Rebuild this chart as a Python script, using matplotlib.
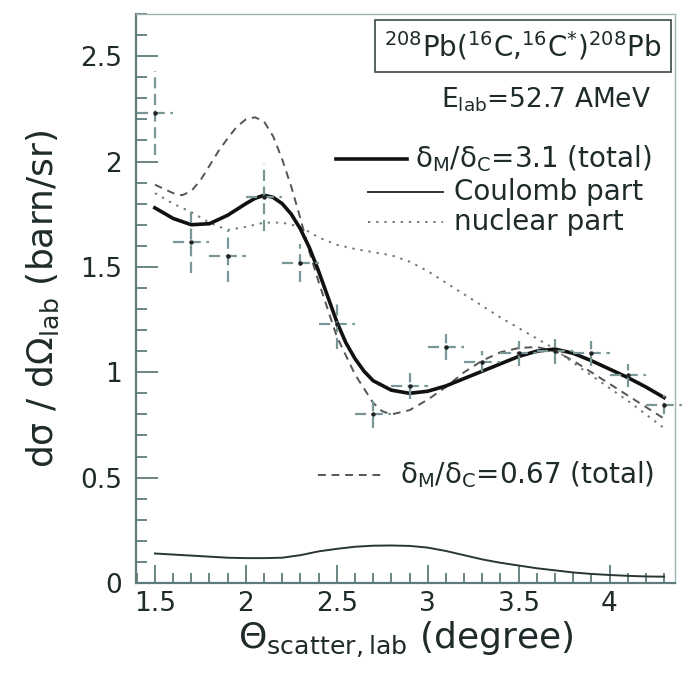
import matplotlib
matplotlib.use("Agg")
import matplotlib.pyplot as plt
from matplotlib.ticker import MultipleLocator

# ---------------- data ----------------
# experimental points
exp_x = [1.5, 1.7, 1.9, 2.1, 2.3, 2.5, 2.7, 2.9, 3.1, 3.3, 3.5, 3.7, 3.9, 4.1, 4.3]
exp_y = [2.23, 1.62, 1.55, 1.83, 1.52, 1.23, 0.80, 0.935, 1.12, 1.05, 1.09, 1.10, 1.09, 0.985, 0.845]
exp_yerr = [0.20, 0.15, 0.12, 0.16, 0.09, 0.12, 0.065, 0.06, 0.06, 0.05, 0.06, 0.06, 0.06, 0.055, 0.045]
exp_xerr = [0.1] * 15

# total, delta_M/delta_C = 3.1
tot31_x = [1.5, 1.6, 1.7, 1.8, 1.9, 2.0, 2.05, 2.1, 2.15, 2.2, 2.25, 2.3, 2.35, 2.4, 2.45, 2.5, 2.55,
           2.6, 2.65, 2.7, 2.8, 2.9, 3.0, 3.1, 3.2, 3.3, 3.4, 3.5, 3.6, 3.7, 3.8, 3.9, 4.0, 4.1,
           4.2, 4.3]
tot31_y = [1.78, 1.73, 1.70, 1.705, 1.745, 1.80, 1.825, 1.84, 1.83, 1.80, 1.75, 1.68, 1.59, 1.48, 1.36,
           1.24, 1.14, 1.065, 1.005, 0.96, 0.915, 0.90, 0.91, 0.935, 0.97, 1.005, 1.04, 1.075, 1.10,
           1.11, 1.09, 1.055, 1.015, 0.975, 0.93, 0.88]

# Coulomb part
coul_x = [1.5, 1.6, 1.7, 1.8, 1.9, 2.0, 2.1, 2.2, 2.3, 2.4, 2.5, 2.6, 2.7, 2.8, 2.9,
          3.0, 3.1, 3.2, 3.3, 3.4, 3.5, 3.6, 3.7, 3.8, 3.9, 4.0, 4.1, 4.2, 4.3]
coul_y = [0.14, 0.135, 0.13, 0.125, 0.12, 0.118, 0.118, 0.12, 0.132, 0.15, 0.162, 0.172, 0.177, 0.178, 0.176,
          0.168, 0.152, 0.132, 0.112, 0.096, 0.083, 0.07, 0.06, 0.05, 0.043, 0.038, 0.034, 0.031, 0.03]

# nuclear part
nuc_x = coul_x
nuc_y = [1.85, 1.80, 1.76, 1.71, 1.675, 1.69, 1.71, 1.71, 1.69, 1.64, 1.605, 1.585, 1.57, 1.555, 1.525,
         1.48, 1.425, 1.37, 1.315, 1.26, 1.21, 1.16, 1.11, 1.045, 0.985, 0.925, 0.865, 0.80, 0.735]

# total, delta_M/delta_C = 0.67
tot067_x = [1.5, 1.6, 1.65, 1.7, 1.75, 1.8, 1.85, 1.9, 1.95, 2.0, 2.05, 2.1, 2.15, 2.2, 2.25, 2.3, 2.35,
            2.4, 2.5, 2.6, 2.7, 2.75, 2.8, 2.9, 3.0, 3.1, 3.2, 3.3, 3.4, 3.5, 3.6, 3.7, 3.8, 3.9, 4.0,
            4.1, 4.2, 4.3]
tot067_y = [1.89, 1.85, 1.84, 1.86, 1.91, 1.98, 2.05, 2.11, 2.165, 2.20, 2.21, 2.19, 2.12, 2.01, 1.88, 1.73, 1.57,
            1.43, 1.17, 0.99, 0.855, 0.815, 0.80, 0.82, 0.87, 0.93, 1.00, 1.055, 1.095, 1.115, 1.12, 1.10,
            1.055, 1.00, 0.945, 0.89, 0.835, 0.78]

x_ticks = [1.5, 2, 2.5, 3, 3.5, 4]
x_ticklabels = ["1.5", "2", "2.5", "3", "3.5", "4"]
y_ticks = [0, 0.5, 1, 1.5, 2, 2.5]
y_ticklabels = ["0", "0.5", "1", "1.5", "2", "2.5"]

# ---------------- figure ----------------
txt = "#1f2b2b"
axc = "#5f7b7b"
fig = plt.figure(figsize=(6.82, 6.78), dpi=100)
ax = fig.add_axes([136 / 682, 1 - 583 / 678, (675 - 136) / 682, (583 - 14) / 678])

ax.plot(tot067_x, tot067_y, color="#555555", lw=1.4, ls=(0, (4, 3)))
ax.plot(nuc_x, nuc_y, color="#6a7a7a", lw=1.4, ls=(0, (1.2, 3)))
ax.plot(coul_x, coul_y, color="#2a3636", lw=1.4)
ax.plot(tot31_x, tot31_y, color="#111111", lw=2.6)

eb = ax.errorbar(exp_x, exp_y, xerr=exp_xerr, yerr=exp_yerr, fmt="o", ms=2.2,
                 color="#7a9696", mfc="#222222", mec="#222222", elinewidth=1.6,
                 capsize=0, zorder=4, clip_on=False)
for lc in eb[2]:
    lc.set_linestyle((0, (5, 2.5)))
    lc.set_clip_on(False)

ax.set_xlim(1.396, 4.36)
ax.set_ylim(0, 2.7)
ax.set_xticks(x_ticks)
ax.set_xticklabels(x_ticklabels)
ax.set_yticks(y_ticks)
ax.set_yticklabels(y_ticklabels)
ax.xaxis.set_minor_locator(MultipleLocator(0.1))
ax.yaxis.set_minor_locator(MultipleLocator(0.1))
ax.tick_params(axis="both", which="both", direction="in", colors=axc,
               labelcolor=txt, labelsize=19, top=False, right=False, width=1.3)
ax.tick_params(axis="x", which="major", length=13, pad=6)
ax.tick_params(axis="x", which="minor", length=7)
ax.tick_params(axis="y", which="major", length=16, pad=10)
ax.tick_params(axis="y", which="minor", length=8)
for s in ["left", "bottom"]:
    ax.spines[s].set_color(axc)
    ax.spines[s].set_linewidth(1.6)
for s in ["top", "right"]:
    ax.spines[s].set_color("#9fb3b3")
    ax.spines[s].set_linewidth(1.0)

ax.set_xlabel(r"$\Theta_{\rm scatter,lab}$ (degree)", fontsize=26, color=txt, labelpad=2)
ax.set_ylabel("dσ / dΩ$_{\\rm lab}$ (barn/sr)", fontsize=26, color=txt, labelpad=14)

# title box
ax.text(0.975, 0.944, r"$^{208}$Pb($^{16}$C,$^{16}$C$^{*}$)$^{208}$Pb", transform=ax.transAxes,
        ha="right", va="center", fontsize=20, color=txt,
        bbox=dict(boxstyle="square,pad=0.35", fc="white", ec="#3a4848", lw=1.2))
ax.text(0.955, 0.849, r"E$_{\rm lab}$=52.7 AMeV", transform=ax.transAxes,
        ha="right", va="center", fontsize=19, color=txt)

# legend (manual)
def leg_line(x0, x1, y, **kw):
    ax.plot([x0, x1], [y, y], transform=ax.transAxes, clip_on=False, **kw)

leg_line(0.371, 0.503, 0.745, color="#111111", lw=2.6)
ax.text(0.518, 0.745, "δ$_{\\rm M}$/δ$_{\\rm C}$=3.1 (total)", transform=ax.transAxes,
        ha="left", va="center", fontsize=20, color=txt)
leg_line(0.43, 0.57, 0.687, color="#2a3636", lw=1.4)
ax.text(0.59, 0.687, "Coulomb part", transform=ax.transAxes,
        ha="left", va="center", fontsize=20, color=txt)
leg_line(0.43, 0.57, 0.634, color="#6a7a7a", lw=1.4, ls=(0, (1.2, 3)))
ax.text(0.59, 0.634, "nuclear part", transform=ax.transAxes,
        ha="left", va="center", fontsize=20, color=txt)
leg_line(0.338, 0.458, 0.19, color="#555555", lw=1.4, ls=(0, (4, 3)))
ax.text(0.49, 0.19, "δ$_{\\rm M}$/δ$_{\\rm C}$=0.67 (total)", transform=ax.transAxes,
        ha="left", va="center", fontsize=20, color=txt)

fig.savefig("out.png", dpi=100)
